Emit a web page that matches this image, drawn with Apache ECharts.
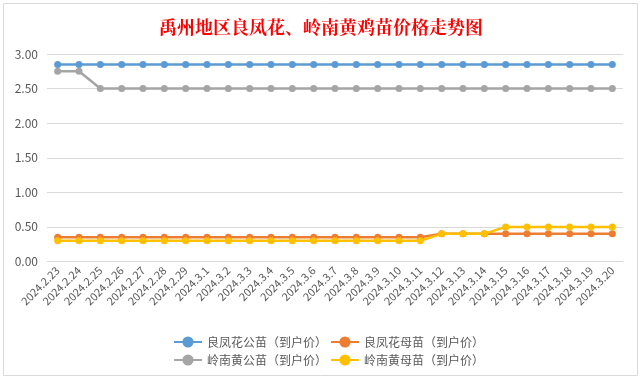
<!DOCTYPE html>
<html>
<head>
<meta charset="utf-8">
<script src="https://cdn.jsdelivr.net/npm/echarts@6/dist/echarts.min.js"></script>
<style>
  html, body { margin: 0; padding: 0; background: #ffffff; }
  #chart { width: 642px; height: 380px; }
</style>
</head>
<body>
<div id="chart"></div>
<script>
const titleText = '禹州地区良凤花、岭南黄鸡苗价格走势图';
const categories = [
  '2024.2.23','2024.2.24','2024.2.25','2024.2.26','2024.2.27','2024.2.28','2024.2.29',
  '2024.3.1','2024.3.2','2024.3.3','2024.3.4','2024.3.5','2024.3.6','2024.3.7','2024.3.8',
  '2024.3.9','2024.3.10','2024.3.11','2024.3.12','2024.3.13','2024.3.14','2024.3.15',
  '2024.3.16','2024.3.17','2024.3.18','2024.3.19','2024.3.20'
];
const seriesNames = ['良凤花公苗（到户价）','良凤花母苗（到户价）','岭南黄公苗（到户价）','岭南黄母苗（到户价）'];
const lfhMale   = [2.85,2.85,2.85,2.85,2.85,2.85,2.85,2.85,2.85,2.85,2.85,2.85,2.85,2.85,2.85,2.85,2.85,2.85,2.85,2.85,2.85,2.85,2.85,2.85,2.85,2.85,2.85];
const lfhFemale = [0.35,0.35,0.35,0.35,0.35,0.35,0.35,0.35,0.35,0.35,0.35,0.35,0.35,0.35,0.35,0.35,0.35,0.35,0.40,0.40,0.40,0.40,0.40,0.40,0.40,0.40,0.40];
const lnhMale   = [2.75,2.75,2.50,2.50,2.50,2.50,2.50,2.50,2.50,2.50,2.50,2.50,2.50,2.50,2.50,2.50,2.50,2.50,2.50,2.50,2.50,2.50,2.50,2.50,2.50,2.50,2.50];
const lnhFemale = [0.30,0.30,0.30,0.30,0.30,0.30,0.30,0.30,0.30,0.30,0.30,0.30,0.30,0.30,0.30,0.30,0.30,0.30,0.40,0.40,0.40,0.50,0.50,0.50,0.50,0.50,0.50];
const yTicks = { min: 0, max: 3, interval: 0.5 };
const colors = ['#5B9BD5','#ED7D31','#A5A5A5','#FFC000'];
const values = [lfhMale, lfhFemale, lnhMale, lnhFemale];

const font = '"Microsoft YaHei","Noto Sans CJK SC","Noto Sans",sans-serif';
const chart = echarts.init(document.getElementById('chart'), null, { renderer: 'canvas' });

const legendBase = {
  itemWidth: 28,
  itemHeight: 14,
  itemGap: 10,
  textStyle: { color: '#595959', fontSize: 12, fontFamily: font },
  selectedMode: false
};
const legendPos = [[168, 331], [325, 331], [168, 349], [325, 349]];

chart.setOption({
  animation: false,
  backgroundColor: '#ffffff',
  color: colors,
  title: {
    text: titleText,
    left: 'center',
    top: 13,
    textStyle: { color: '#FF0000', fontSize: 18, fontWeight: 'bold', fontFamily: '"Noto Serif CJK SC","Noto Sans CJK SC",serif' }
  },
  graphic: [{
    type: 'rect', silent: true, z: -10,
    shape: { x: 3.5, y: 3.5, width: 634, height: 372 },
    style: { fill: 'none', stroke: '#D9D9D9', lineWidth: 1 }
  }],
  legend: seriesNames.map((n, i) => Object.assign({}, legendBase, {
    left: legendPos[i][0], top: legendPos[i][1], data: [n]
  })),
  grid: { left: 47, right: 19, top: 54, bottom: 118.5, containLabel: false },
  xAxis: {
    type: 'category',
    data: categories,
    boundaryGap: true,
    axisLine: { show: true, lineStyle: { color: '#D9D9D9', width: 1 } },
    axisTick: { show: false },
    axisLabel: { rotate: 45, interval: 0, color: '#595959', fontSize: 11, fontFamily: font, margin: 7 }
  },
  yAxis: {
    type: 'value',
    min: yTicks.min, max: yTicks.max, interval: yTicks.interval,
    axisLine: { show: false },
    axisTick: { show: false },
    splitLine: { lineStyle: { color: '#D9D9D9', width: 1 } },
    axisLabel: { color: '#595959', fontSize: 12, fontFamily: font, margin: 9,
      formatter: v => v.toFixed(2) }
  },
  series: seriesNames.map((name, i) => ({
    name: name,
    type: 'line',
    data: values[i],
    symbol: 'circle',
    symbolSize: 7,
    lineStyle: { width: 2.5, color: colors[i] },
    itemStyle: { color: colors[i] }
  }))
});
</script>
</body>
</html>
